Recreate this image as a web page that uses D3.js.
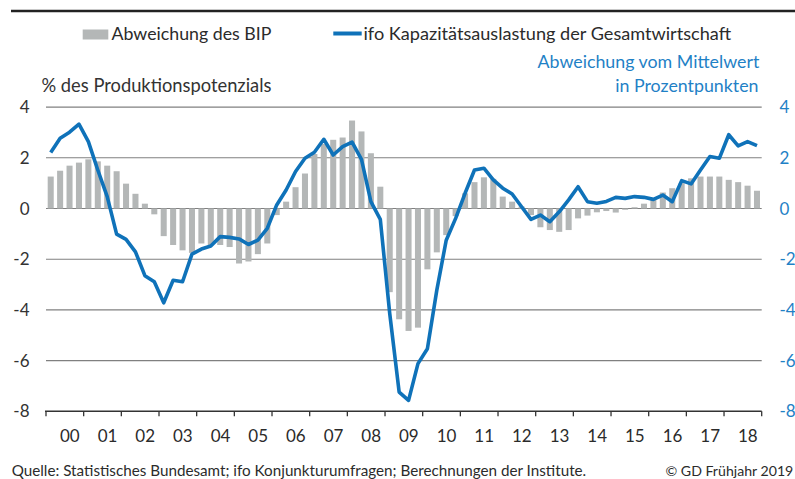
<!DOCTYPE html>
<html><head><meta charset="utf-8">
<script src="https://cdn.jsdelivr.net/npm/d3@7"></script>
<style>body{margin:0;background:#fff} svg{display:block}</style>
</head><body>
<svg id="c" width="795" height="479"></svg>
<script>
// ---- data ----
const years = ["00","01","02","03","04","05","06","07","08","09","10","11","12","13","14","15","16","17","18"];
const quarterNames = ["Q1","Q2","Q3","Q4"];
// Abweichung des BIP (% des Produktionspotenzials), quarterly
const bipGap = [
  1.26, 1.49, 1.69, 1.81,
  1.94, 1.86, 1.69, 1.47,
  0.98, 0.58, 0.19, -0.23,
  -1.09, -1.44, -1.65, -1.75,
  -1.38, -1.44, -1.44, -1.52,
  -2.17, -2.09, -1.80, -1.38,
  -0.26, 0.27, 0.84, 1.38,
  2.15, 2.55, 2.71, 2.80,
  3.47, 3.04, 2.18, 0.86,
  -3.30, -4.37, -4.83, -4.70,
  -2.40, -1.73, -1.05, -0.30,
  0.60, 1.04, 1.23, 1.17,
  0.47, 0.27, 0.08, -0.26,
  -0.74, -0.85, -0.92, -0.85,
  -0.39, -0.28, -0.15, -0.10,
  -0.16, -0.05, 0.05, 0.19,
  0.36, 0.63, 0.80, 1.00,
  1.19, 1.26, 1.26, 1.26,
  1.13, 1.04, 0.90, 0.70
];
// ifo Kapazitätsauslastung der Gesamtwirtschaft (Abweichung vom Mittelwert, Prozentpunkte)
const ifoCapacity = [
  2.21, 2.77, 3.01, 3.33,
  2.64, 1.52, 0.47, -1.01,
  -1.22, -1.71, -2.65, -2.89,
  -3.72, -2.83, -2.89, -1.80,
  -1.60, -1.48, -1.11, -1.14,
  -1.20, -1.42, -1.25, -0.78,
  0.14, 0.73, 1.46, 1.98,
  2.22, 2.73, 2.11, 2.44,
  2.62, 1.94, 0.27, -0.43,
  -4.14, -7.24, -7.57, -6.12,
  -5.53, -3.22, -1.25, -0.39,
  0.60, 1.52, 1.59, 1.13,
  0.80, 0.57, 0.07, -0.43,
  -0.26, -0.52, -0.13, 0.34,
  0.86, 0.27, 0.21, 0.28,
  0.44, 0.40, 0.47, 0.44,
  0.36, 0.53, 0.27, 1.10,
  0.97, 1.52, 2.05, 1.98,
  2.91, 2.47, 2.64, 2.48
];
const yTicks = [-8, -6, -4, -2, 0, 2, 4];
const legendLabels = ["Abweichung des BIP", "ifo Kapazitätsauslastung der Gesamtwirtschaft"];
const leftTitle = "% des Produktionspotenzials";
const rightTitle = ["Abweichung vom Mittelwert", "in Prozentpunkten"];
const sourceText = "Quelle: Statistisches Bundesamt; ifo Konjunkturumfragen; Berechnungen der Institute.";
const creditText = "© GD Frühjahr 2019";

// ---- layout ----
const FONT = "Lato, 'Noto Sans', sans-serif";
const svg = d3.select("#c").style("font-family", FONT);
const left = 46, right = 761.7;
const quarters = years.flatMap(y => quarterNames.map(q => y + q));
const x = d3.scaleBand().domain(quarters).range([left, right]).paddingInner(0.36).paddingOuter(0.18);
const xYear = d3.scaleBand().domain(years).range([left, right]);
const y = d3.scaleLinear().domain([-8, 4]).range([411.3, 107.1]);

const barColor = "#b4b7b7", lineColor = "#0f72b9", blueText = "#1f81c6", textColor = "#2b2b2b";

function fit(sel, w) {
  const n = sel.node();
  const fs = parseFloat(sel.style("font-size"));
  const L = n.getComputedTextLength();
  if (L > 0) sel.style("font-size", (fs * w / L) + "px");
  return sel;
}

// top rule
svg.append("line").attr("x1", 11).attr("x2", 795).attr("y1", 11).attr("y2", 11)
  .attr("stroke", "#222").attr("stroke-width", 2.5);

// gridlines
svg.append("g").selectAll("line").data(yTicks.filter(d => d > -8)).join("line")
  .attr("x1", left).attr("x2", right)
  .attr("y1", d => y(d)).attr("y2", d => y(d))
  .attr("stroke", "#808080").attr("stroke-width", 1.1);

// bars
svg.append("g").selectAll("rect").data(bipGap).join("rect")
  .attr("x", (d, i) => x(quarters[i]))
  .attr("width", x.bandwidth())
  .attr("y", d => y(Math.max(0, d)))
  .attr("height", d => Math.abs(y(d) - y(0)))
  .attr("fill", barColor);

// x axis
const xAxis = svg.append("g").attr("transform", `translate(0,${y(-8)})`);
xAxis.append("line").attr("x1", left - 1).attr("x2", right).attr("stroke", "#333").attr("stroke-width", 1.4);
xAxis.selectAll("line.tk").data(years.concat(["end"])).join("line").attr("class", "tk")
  .attr("x1", (d, i) => i < years.length ? xYear(d) : right)
  .attr("x2", (d, i) => i < years.length ? xYear(d) : right)
  .attr("y1", 0).attr("y2", 5).attr("stroke", "#333").attr("stroke-width", 1.3);
xAxis.selectAll("text").data(years).join("text")
  .attr("x", d => xYear(d) + xYear.bandwidth() / 2 + 5)
  .attr("y", 30.4)
  .attr("text-anchor", "middle").attr("fill", textColor)
  .style("font-size", "17px").text(d => d);

// y labels left & right
svg.append("g").selectAll("text").data(yTicks).join("text")
  .attr("x", 29.5).attr("y", d => y(d)).attr("dy", "0.36em")
  .attr("text-anchor", "end").attr("fill", "#333").style("font-size", "17px")
  .text(d => d);
svg.append("g").selectAll("text").data(yTicks).join("text")
  .attr("x", 779.5).attr("y", d => y(d)).attr("dy", "0.36em")
  .attr("text-anchor", "start").attr("fill", blueText).style("font-size", "17px")
  .text(d => d);

// line
const line = d3.line().x((d, i) => x(quarters[i]) + x.bandwidth() / 2).y(d => y(d));
svg.append("path").datum(ifoCapacity).attr("d", line)
  .attr("fill", "none").attr("stroke", lineColor).attr("stroke-width", 3.6)
  .attr("stroke-linejoin", "round").attr("stroke-linecap", "butt");

// legend
svg.append("rect").attr("x", 82.7).attr("y", 29.5).attr("width", 25.6).attr("height", 10).attr("fill", barColor);
fit(svg.append("text").attr("x", 111.5).attr("y", 39.5).attr("fill", textColor).style("font-size", "17px").text(legendLabels[0]), 160);
svg.append("line").attr("x1", 333.3).attr("x2", 361.7).attr("y1", 33.5).attr("y2", 33.5)
  .attr("stroke", lineColor).attr("stroke-width", 4);
fit(svg.append("text").attr("x", 363.5).attr("y", 39.5).attr("fill", textColor).style("font-size", "17px").text(legendLabels[1]), 368);

// axis titles
fit(svg.append("text").attr("x", 41.5).attr("y", 91.5).attr("fill", "#333").style("font-size", "17px").text(leftTitle), 230);
const rt1 = fit(svg.append("text").attr("x", 759.3).attr("y", 68).attr("text-anchor", "end").attr("fill", blueText).style("font-size", "17px").text(rightTitle[0]), 222);
svg.append("text").attr("x", 758.5).attr("y", 91.5).attr("text-anchor", "end").attr("fill", blueText)
  .style("font-size", rt1.style("font-size")).text(rightTitle[1]);

// source
fit(svg.append("text").attr("x", 11.7).attr("y", 475.5).attr("fill", textColor).style("font-size", "15px").text(sourceText), 575);
fit(svg.append("text").attr("x", 793.3).attr("y", 475.5).attr("text-anchor", "end").attr("fill", textColor).style("font-size", "15px").text(creditText), 128);
</script>
</body></html>
